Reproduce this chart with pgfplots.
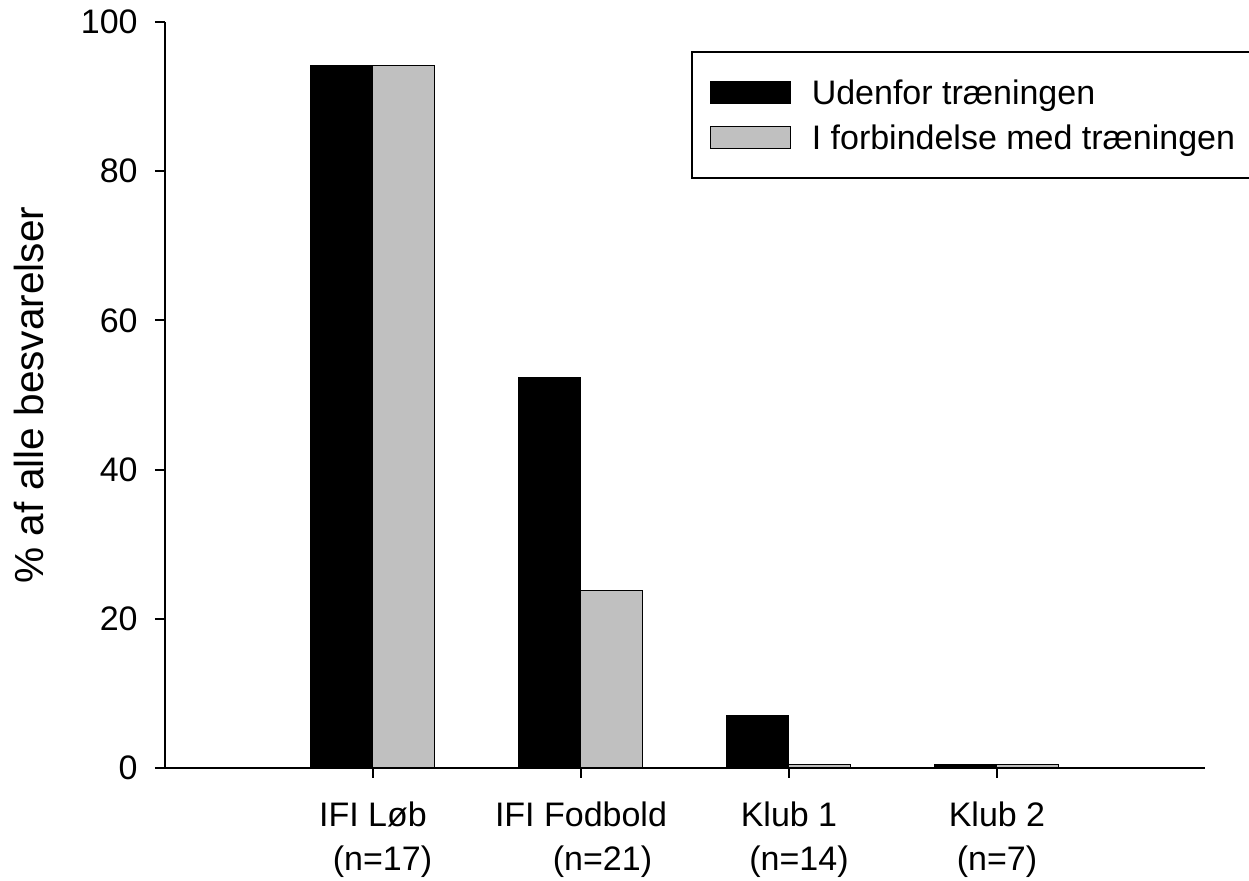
\documentclass[border=0pt]{standalone}
\usepackage{fontspec}
\setmainfont{Liberation Sans}
\usepackage{pgfplots}
\pgfplotsset{compat=1.18}
\definecolor{bargrey}{HTML}{C0C0C0}
\begin{document}
\begin{tikzpicture}
\path[use as bounding box] (-82.5pt,-56.5pt) rectangle (542pt,384pt);
\begin{axis}[
  at={(0pt,0pt)}, anchor=south west,
  scale only axis, width=520pt, height=373pt,
  xmin=0, xmax=5, ymin=0, ymax=100,
  axis x line=bottom, axis y line=left,
  axis line style={-, line width=1pt},
  tick style={line width=1pt, black},
  tick align=outside, major tick length=5pt,
  xtick={1,2,3,4},
  xticklabels={{IFI Løb\\\hspace*{9.5pt}(n=17)},{IFI Fodbold\\\hspace*{21.5pt}(n=21)},{Klub 1\\\hspace*{10pt}(n=14)},{Klub 2\\(n=7)}},
  ytick={0,20,40,60,80,100},
  /pgf/number format/assume math mode=true,
  ticklabel style={font=\fontsize{17}{22}\selectfont},
  yticklabel style={inner sep=0pt, anchor=east, xshift=-8.5pt},
  xticklabel style={inner sep=0pt, anchor=north, align=center, yshift=-11.5pt},
  ylabel={\% af alle besvarelser},
  ylabel style={at={(axis description cs:-0.1173,0.5)}, anchor=base, inner sep=0pt, font=\fontsize{20.3}{24}\selectfont},
  legend style={at={(axis description cs:0.5058,0.961)}, anchor=north west, draw=black, line width=0.75pt,
    font=\fontsize{17}{22}\selectfont, inner xsep=9pt, inner ysep=9pt, row sep=0pt, column sep=10.5pt,
    nodes={inner sep=0pt, text height=17.35pt, text depth=5.15pt}},
  legend cell align=left,
]
\addplot[ybar, bar width=31pt, bar shift=-15.5pt, fill=black, draw=black, line width=0.5pt,
  legend image code/.code={\draw[fill=black, draw=black, line width=0.5pt] (0pt,-5.5pt) rectangle (40pt,5.5pt);}]
  coordinates {(1,94.1) (2,52.4) (3,7.1) (4,0.5)};
\addlegendentry{Udenfor træningen}
\addplot[ybar, bar width=31pt, bar shift=15.5pt, fill=bargrey, draw=black, line width=0.5pt,
  legend image code/.code={\draw[fill=bargrey, draw=black, line width=0.5pt] (0pt,-5.5pt) rectangle (40pt,5.5pt);}]
  coordinates {(1,94.1) (2,23.8) (3,0.5) (4,0.5)};
\addlegendentry{I forbindelse med træningen}
\end{axis}
\end{tikzpicture}
\end{document}
